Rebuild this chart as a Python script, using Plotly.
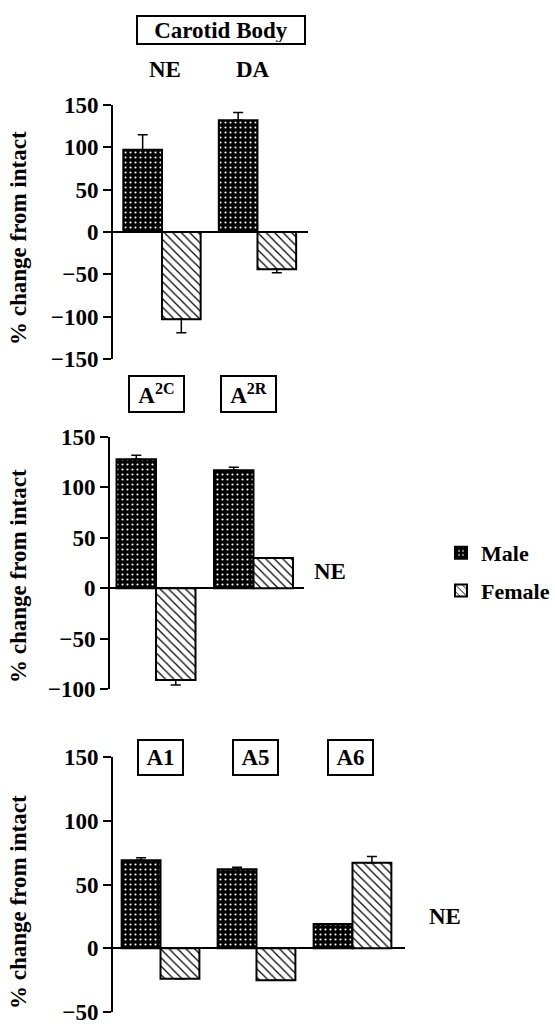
import plotly.graph_objects as go

# ---------------- data ----------------
p1_cats = ["NE", "DA"]
p1_male = [97, 132]
p1_male_err = [18, 9]
p1_female = [-103, -44]
p1_female_err = [16, 4]

p2_cats = ["A2C", "A2R"]
p2_male = [128, 117]
p2_male_err = [4, 3]
p2_female = [-91, 30]
p2_female_err = [5, 0]

p3_cats = ["A1", "A5", "A6"]
p3_male = [69, 62, 19]
p3_male_err = [2, 1.5, 0]
p3_female = [-24, -25, 67]
p3_female_err = [0, 0, 5]

series_names = ["Male", "Female"]
y_title = "% change from intact"

# ---------------- layout helpers ----------------
W, H = 555, 1024
FONT = "Liberation Serif"


def fx(px):
    return px / W


def fy(py):
    return 1 - py / H


male_marker = dict(
    color="black",
    line=dict(color="black", width=2),
    pattern=dict(shape=".", fgcolor="white", bgcolor="black", size=5, solidity=0.15),
)
female_marker = dict(
    color="white",
    line=dict(color="black", width=2),
    pattern=dict(shape="\\", fgcolor="black", bgcolor="white", size=6, solidity=0.2),
)


def err(vals, errs):
    up = [e if v >= 0 else 0 for v, e in zip(vals, errs)]
    dn = [e if v < 0 else 0 for v, e in zip(vals, errs)]
    return dict(type="data", symmetric=False, array=up, arrayminus=dn,
                color="black", thickness=1.5, width=5)


fig = go.Figure()
panels = [
    (p1_cats, p1_male, p1_male_err, p1_female, p1_female_err, "x", "y"),
    (p2_cats, p2_male, p2_male_err, p2_female, p2_female_err, "x2", "y2"),
    (p3_cats, p3_male, p3_male_err, p3_female, p3_female_err, "x3", "y3"),
]
for i, (cats, m, me, f, fe, xa, ya) in enumerate(panels):
    fig.add_trace(go.Bar(x=cats, y=m, name=series_names[0], marker=male_marker,
                         error_y=err(m, me), xaxis=xa, yaxis=ya,
                         showlegend=(i == 0), legendgroup="m"))
    fig.add_trace(go.Bar(x=cats, y=f, name=series_names[1], marker=female_marker,
                         error_y=err(f, fe), xaxis=xa, yaxis=ya,
                         showlegend=(i == 0), legendgroup="f"))

tickfont = dict(family=FONT, size=23, color="black", weight="bold")
yax_common = dict(showline=True, linewidth=2, linecolor="black", ticks="outside",
                  ticklen=8, tickwidth=2, tickcolor="black", tickfont=tickfont,
                  ticklabeloverflow="allow",
                  zeroline=True, zerolinewidth=2, zerolinecolor="black",
                  showgrid=False, dtick=50, fixedrange=True)
xax_common = dict(showline=False, showticklabels=False, ticks="", showgrid=False,
                  zeroline=False, type="category", fixedrange=True)

fig.update_layout(
    template="none",
    width=W, height=H,
    margin=dict(l=0, r=0, t=0, b=0),
    paper_bgcolor="white", plot_bgcolor="white",
    barmode="group", bargap=0.19, bargroupgap=0,
    font=dict(family=FONT, size=22, color="black"),
    xaxis=dict(domain=[fx(113), fx(308)], range=[-0.513, 1.529], anchor="y", **xax_common),
    yaxis=dict(domain=[fy(359), fy(105)], range=[-150, 150], anchor="x", **yax_common),
    xaxis2=dict(domain=[fx(110), fx(304)], range=[-0.472, 1.518], anchor="y2", **xax_common),
    yaxis2=dict(domain=[fy(689), fy(437)], range=[-100, 150], anchor="x2", **yax_common),
    xaxis3=dict(domain=[fx(113), fx(405)], range=[-0.495, 2.547], anchor="y3", **xax_common),
    yaxis3=dict(domain=[fy(1012), fy(757)], range=[-50, 150], anchor="x3", **yax_common),
    legend=dict(x=fx(441), y=fy(532), xanchor="left", yanchor="top",
                font=dict(family=FONT, size=22, color="black", weight="bold"),
                tracegroupgap=6, traceorder="grouped", bgcolor="rgba(0,0,0,0)"),
)

afont = dict(family=FONT, size=23, color="black", weight="bold")


def label(text, cx, cy, box=False, w=None, h=None):
    kw = dict(text=text, x=fx(cx), y=fy(cy), xref="paper", yref="paper",
              xanchor="center", yanchor="middle", showarrow=False, font=afont)
    if box:
        kw.update(bordercolor="black", borderwidth=2, borderpad=1, bgcolor="white",
                  width=w, height=h)
    fig.add_annotation(**kw)


label("Carotid Body", 221, 29.5, box=True, w=164, h=24)
label("NE", 165, 69)
label("DA", 252.5, 69)
label("A<sup>2C</sup>", 156.5, 394, box=True, w=51, h=32)
label("A<sup>2R</sup>", 248.5, 394, box=True, w=51, h=32)
label("NE", 330, 571)
label("A1", 160.5, 757.5, box=True, w=41, h=31)
label("A5", 255.5, 757.5, box=True, w=41, h=31)
label("A6", 350.5, 757.5, box=True, w=41, h=31)
label("NE", 445, 916)

for cy in (238, 576, 902):
    fig.add_annotation(text=y_title, x=fx(18), y=fy(cy), xref="paper", yref="paper",
                       xanchor="center", yanchor="middle", showarrow=False,
                       textangle=-90, font=afont)

fig.write_html(
    "out.html",
    config={"displayModeBar": False},
    post_script="document.body.style.margin='0';document.documentElement.style.overflow='hidden';",
)
